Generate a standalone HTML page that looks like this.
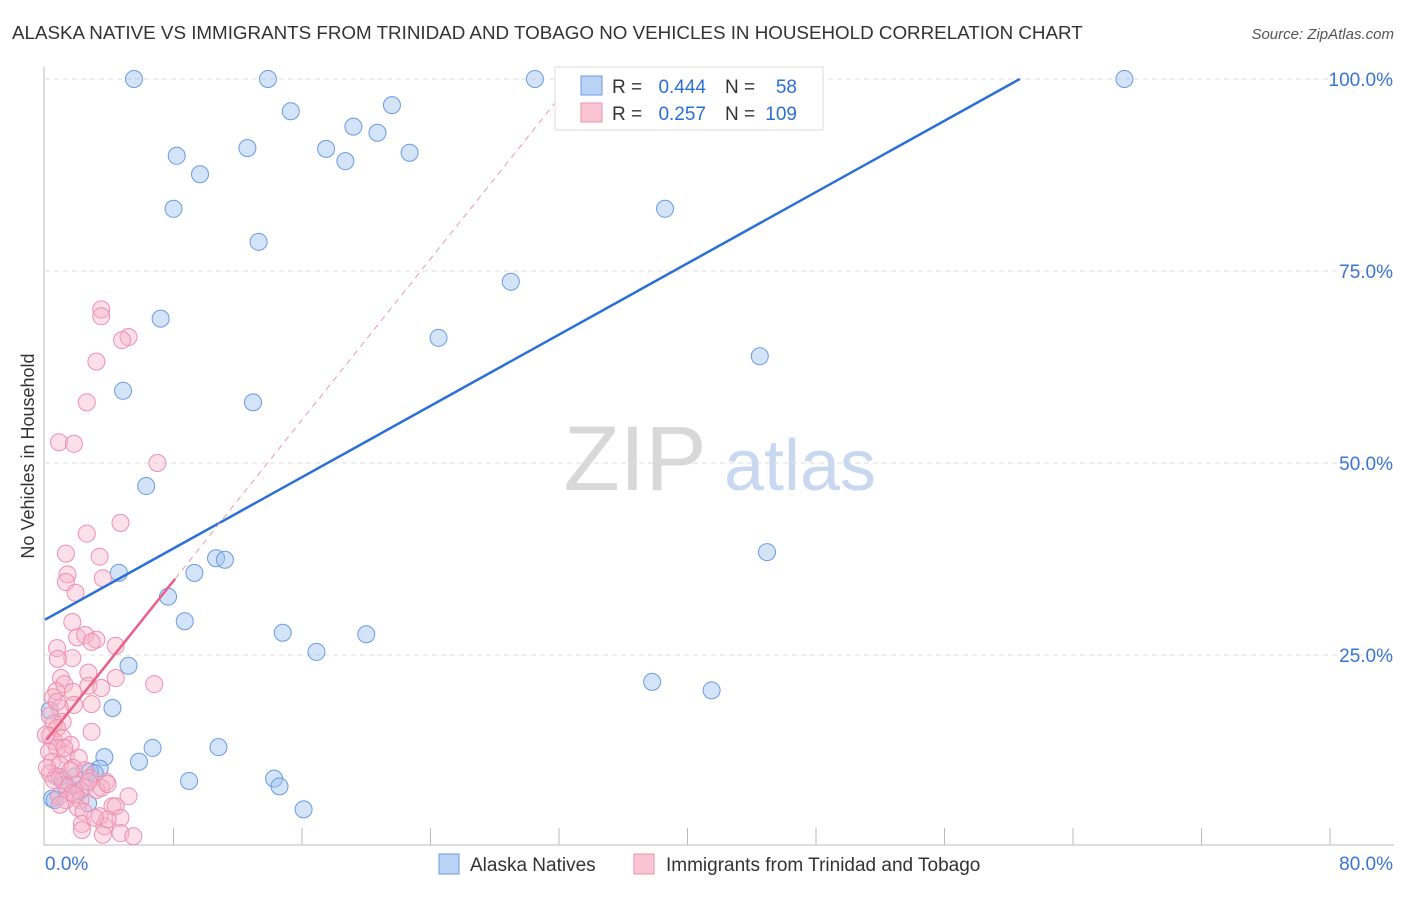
<!DOCTYPE html>
<html><head><meta charset="utf-8"><style>
body{margin:0;background:#fff;font-family:"Liberation Sans",sans-serif;}
svg text{font-family:"Liberation Sans",sans-serif;}
</style></head><body>
<svg width="1406" height="892">
<text x="12" y="39" font-size="18.8" fill="#333">ALASKA NATIVE VS IMMIGRANTS FROM TRINIDAD AND TOBAGO NO VEHICLES IN HOUSEHOLD CORRELATION CHART</text>
<text x="1394" y="39" font-size="15" fill="#555" font-style="italic" text-anchor="end">Source: ZipAtlas.com</text>
<text x="34" y="456" font-size="18" fill="#333" text-anchor="middle" transform="rotate(-90 34 456)">No Vehicles in Household</text>
<g><text x="635" y="490" font-size="92" fill="#d8d8d8" font-family="Liberation Serif" text-anchor="middle">ZIP</text><text x="800" y="490" font-size="72" fill="#c8d8f0" text-anchor="middle">atlas</text></g>
<g id="grid"></g><g id="marks"></g>
<g>
<rect x="555" y="67" width="268" height="63" fill="#fff" stroke="#ddd"/>
<rect x="581" y="76" width="21" height="19" fill="#b9d3f5" stroke="#6a9be0"/>
<rect x="581" y="103" width="21" height="19" fill="#f9c5d5" stroke="#ee90ae"/>
<text x="612" y="93" font-size="19" fill="#333">R =</text>
<text x="706" y="93" font-size="19" fill="#2a6fd6" text-anchor="end">0.444</text>
<text x="725" y="93" font-size="19" fill="#333">N =</text>
<text x="797" y="93" font-size="19" fill="#2a6fd6" text-anchor="end">58</text>
<text x="612" y="120" font-size="19" fill="#333">R =</text>
<text x="706" y="120" font-size="19" fill="#2a6fd6" text-anchor="end">0.257</text>
<text x="725" y="120" font-size="19" fill="#333">N =</text>
<text x="797" y="120" font-size="19" fill="#2a6fd6" text-anchor="end">109</text>
</g>
<g>
<rect x="439" y="854" width="20" height="20" fill="#b9d3f5" stroke="#6a9be0"/>
<text x="470" y="871" font-size="19" fill="#333">Alaska Natives</text>
<rect x="634" y="854" width="20" height="20" fill="#f9c5d5" stroke="#ee90ae"/>
<text x="666" y="871" font-size="19" fill="#333">Immigrants from Trinidad and Tobago</text>
</g>
</svg>
<script>
const xTicks=[0,8,16,24,32,40,48,56,64,72,80];
const yTicks=[25,50,75,100];
const blueX=[5.54,13.88,30.5,32.9,67.2,15.3,21.6,19.2,20.7,8.2,12.6,17.5,18.7,22.7,9.65,8.0,38.6,13.3,29.0,7.2,24.5,44.5,4.86,12.95,6.3,44.95,10.65,11.2,4.6,9.3,7.66,8.7,14.8,20.0,16.9,5.2,37.8,41.5,4.2,6.7,10.8,3.7,5.85,8.97,14.26,14.6,16.1,3.4,2.8,1.87,0.93,0.44,2.68,1.2,2.2,3.1,0.3,0.6];
const blueY=[100,100,100,100,100,95.8,96.6,93.8,93.0,90.0,91.0,90.9,89.3,90.4,87.6,83.1,83.1,78.8,73.6,68.8,66.3,63.9,59.4,57.9,47.0,38.4,37.6,37.4,35.7,35.7,32.6,29.4,27.9,27.7,25.4,23.6,21.5,20.4,18.1,12.9,13.0,11.7,11.1,8.6,8.9,7.9,4.9,10.2,9.8,9.2,9.1,6.3,5.7,8.1,7.4,9.6,17.8,6.1];
const pinkX=[3.5,3.5,5.2,4.8,3.2,2.6,0.87,1.8,7.0,4.7,2.6,1.3,3.4,1.4,1.3,3.6,1.9,1.7,2.0,2.5,3.2,2.9,4.4,0.75,1.7,0.8,2.7,1.0,1.2,2.7,3.5,6.8,4.4,0.7,1.74,0.5,2.9,1.8,0.93,0.3,1.1,0.56,0.75,2.9,0.3,1.1,0.56,1.6,0.75,0.25,1.3,2.1,0.44,0.93,1.74,2.5,0.3,0.7,2.8,1.1,3.8,1.9,1.4,2.4,3.2,3.5,1.7,0.87,1.3,2.2,5.2,0.93,2.05,4.2,4.4,2.4,3.4,4.7,2.3,3.7,2.3,4.7,5.5,3.6,3.9,3.1,1.87,2.7,3.9,1.6,0.56,0.12,1.2,0.06,0.75];
const pinkY=[70.0,69.1,66.4,66.0,63.2,57.9,52.7,52.5,50.0,42.2,40.8,38.2,37.8,35.5,34.5,35.0,33.1,29.3,27.3,27.6,27.0,26.7,26.2,25.9,24.6,24.5,22.7,22.0,21.2,21.0,20.7,21.2,22.0,20.3,20.2,19.5,18.6,18.5,18.1,17.1,16.3,16.1,15.5,15.0,14.5,14.2,13.8,13.3,12.9,12.4,12.0,11.6,11.1,10.7,10.3,10.0,9.6,9.2,9.0,8.7,8.5,8.1,7.8,7.7,7.4,7.7,7.0,6.6,6.1,6.1,6.6,5.5,5.1,5.3,5.3,4.6,4.0,3.8,3.0,2.7,2.2,1.8,1.4,1.6,3.6,3.8,6.8,8.5,8.2,10.0,8.7,10.3,12.9,14.6,18.9];
const blueTrend=[29.6,1.16];
const pinkTrend=[13.7,2.62];
const X=v=>45+v*1285/80, Y=v=>847-v*7.68;
const NS='http://www.w3.org/2000/svg';
function mk(t,a,p){const e=document.createElementNS(NS,t);for(const k in a)e.setAttribute(k,a[k]);p.appendChild(e);return e;}
const g=document.getElementById('grid'),m=document.getElementById('marks');
yTicks.forEach(v=>{const l=mk('line',{x1:45,x2:1394,y1:Y(v),y2:Y(v),stroke:'#ddd','stroke-dasharray':'5,4'},g);


const t=mk('text',{x:1393,y:Y(v)+7,'font-size':19,fill:'#3a74d4','text-anchor':'end'},g);t.textContent=v.toFixed(1)+'%';

});
const ax=mk('line',{x1:44,x2:1394,y1:845,y2:845,stroke:'#bbb'},g);


const ay=mk('line',{x1:44,x2:44,y1:67,y2:845,stroke:'#bbb'},g);


xTicks.forEach((v,i)=>{if(i>0){const l=mk('line',{x1:X(v),x2:X(v),y1:828,y2:845,stroke:'#bbb'},g);

}});
[[0,'start',45],[80,'end',1393]].forEach(a=>{const t=mk('text',{x:a[2],y:870,'font-size':19,fill:'#3a74d4','text-anchor':a[1]},g);t.textContent=a[0].toFixed(1)+'%';

});
blueX.forEach((x,i)=>{const c=mk('circle',{cx:X(x),cy:Y(blueY[i]),r:8.5,fill:'rgba(160,196,240,0.45)',stroke:'#6a9be0','stroke-width':1},m);

});
pinkX.forEach((x,i)=>{const c=mk('circle',{cx:X(x),cy:Y(pinkY[i]),r:8.5,fill:'rgba(246,178,200,0.4)',stroke:'#ee90ae','stroke-width':1},m);

});
const bx2=(100-blueTrend[0])/blueTrend[1];
const bl=mk('line',{x1:X(0),y1:Y(blueTrend[0]),x2:X(bx2),y2:Y(100),stroke:'#2a6fd6','stroke-width':2.5},m);


const px2=(100-pinkTrend[0])/pinkTrend[1];
const pd=mk('line',{x1:X(8.1),y1:Y(pinkTrend[0]+pinkTrend[1]*8.1),x2:X(px2),y2:Y(100),stroke:'#e89ab5','stroke-width':1,'stroke-dasharray':'6,5'},m);


const pl=mk('line',{x1:X(0.1),y1:Y(pinkTrend[0]+pinkTrend[1]*0.1),x2:X(8.1),y2:Y(pinkTrend[0]+pinkTrend[1]*8.1),stroke:'#e8608a','stroke-width':2.5},m);


</script>
</body></html>
